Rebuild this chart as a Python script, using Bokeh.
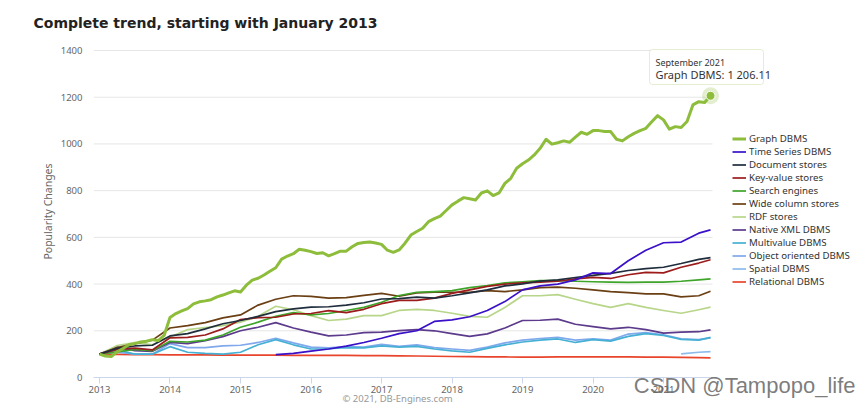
import math
from bokeh.plotting import figure
from bokeh.models import (Range1d, FixedTicker, Legend, LegendItem, Label, Title,
                          BoxAnnotation)
from bokeh.embed import file_html
from bokeh.resources import INLINE

nan = float("nan")

# ---------------- data ----------------
x_tick_years = [2013, 2014, 2015, 2016, 2017, 2018, 2019, 2020, 2021]
x_tick_labels = ["2013", "2014", "2015", "2016", "2017", "2018", "2019", "2020", "2021"]
y_ticks = [0, 200, 400, 600, 800, 1000, 1200, 1400]

month_names = ["January", "February", "March", "April", "May", "June", "July",
               "August", "September", "October", "November", "December"]

# Graph DBMS, monthly from January 2013 to September 2021
graph_dbms = [
    100, 92, 90, 110, 124, 140, 145, 152, 155, 162, 158, 180,
    257, 274, 285, 295, 315, 324, 328, 333, 345, 353, 362, 371,
    366, 395, 417, 425, 439, 455, 470, 507, 520, 530, 549, 545,
    539, 531, 534, 521, 530, 541, 541, 560, 574, 578, 580, 576,
    570, 545, 536, 546, 575, 610, 625, 639, 667, 680, 691, 715,
    739, 755, 770, 765, 760, 790, 799, 779, 790, 831, 853, 896,
    915, 931, 953, 981, 1020, 999, 1005, 1013, 1007, 1029, 1050, 1041,
    1057, 1057, 1053, 1053, 1020, 1013, 1031, 1045, 1057, 1067, 1095, 1121,
    1103, 1063, 1074, 1070, 1096, 1167, 1181, 1177, 1206.11,
]

# other categories, quarterly (Jan/Apr/Jul/Oct) from 2013 to July 2021, then September 2021
time_series = [nan, nan, nan, nan, nan, nan, nan, nan, nan, nan, 98, 103,
               113, 122, 134, 150, 168, 188, 200, 240, 247, 260, 287, 325,
               375, 392, 400, 418, 448, 445, 500, 545, 577, 580, 618, 632]
document = [100, 125, 135, 138, 178, 188, 208, 230, 244, 262, 282, 294,
            301, 303, 310, 320, 336, 338, 344, 340, 350, 362, 375, 392,
            401, 413, 418, 428, 437, 446, 458, 466, 472, 488, 506, 513]
key_value = [100, 120, 126, 118, 170, 172, 182, 208, 248, 256, 258, 272,
             274, 286, 278, 292, 316, 330, 330, 340, 360, 375, 390, 400,
             405, 408, 412, 422, 429, 424, 440, 450, 448, 472, 490, 504]
search = [100, 110, 120, 115, 155, 152, 160, 182, 215, 237, 262, 278,
          268, 274, 287, 300, 322, 351, 365, 368, 372, 385, 394, 405,
          410, 415, 415, 412, 410, 408, 407, 408, 408, 412, 418, 422]
wide_column = [100, 128, 145, 160, 212, 222, 235, 255, 268, 310, 335, 350,
               347, 340, 342, 352, 360, 348, 362, 365, 365, 365, 372, 368,
               375, 385, 387, 382, 375, 368, 363, 358, 358, 345, 350, 369]
rdf = [100, 137, 150, 140, 173, 205, 214, 222, 237, 262, 305, 290,
       265, 244, 250, 265, 265, 287, 292, 287, 275, 262, 258, 300,
       350, 350, 355, 335, 316, 300, 316, 300, 287, 275, 290, 301]
native_xml = [100, 130, 115, 112, 150, 145, 158, 175, 200, 215, 235, 212,
              194, 178, 182, 192, 194, 201, 205, 200, 188, 176, 187, 212,
              244, 245, 250, 228, 218, 208, 215, 205, 190, 194, 196, 204]
multivalue = [100, 118, 100, 100, 132, 108, 103, 100, 108, 140, 162, 140,
              122, 123, 128, 127, 135, 130, 133, 122, 114, 108, 125, 140,
              152, 160, 165, 150, 162, 156, 176, 188, 180, 163, 160, 172]
object_oriented = [100, 108, 100, 100, 145, 128, 128, 135, 138, 150, 168, 148,
                   130, 127, 132, 130, 142, 133, 140, 128, 122, 116, 130, 148,
                   160, 167, 172, 160, 166, 160, 186, 192, 183, 166, 162, 170]
spatial = [nan] * 33 + [101, 108, 111]
relational = [100, 99, 98, 98, 97, 97, 97, 96, 96, 96, 96, 95,
              95, 95, 95, 94, 94, 93, 92, 91, 90, 89, 88, 88,
              87, 87, 88, 88, 88, 88, 88, 87, 87, 86, 85, 84]

names = ["Graph DBMS", "Time Series DBMS", "Document stores", "Key-value stores",
         "Search engines", "Wide column stores", "RDF stores", "Native XML DBMS",
         "Multivalue DBMS", "Object oriented DBMS", "Spatial DBMS", "Relational DBMS"]
colors = ["#8dbd3b", "#3a10c8", "#1f2d3d", "#9c1c1c", "#3fa52a", "#6b3f14",
          "#b8d68a", "#5c3a8c", "#45b0d4", "#80a8ec", "#8dbbeb", "#e8452c"]

credits_text = "\u00a9 2021, DB-Engines.com"
watermark_text = "CSDN @Tampopo_life"
title_text = "Complete trend, starting with January 2013"

# ---------------- dates ----------------
graph_dates = [(2013 + i // 12, i % 12 + 1) for i in range(len(graph_dbms))]
quarter_dates = [(y, m) for y in range(2013, 2022) for m in (1, 4, 7, 10) if (y, m) <= (2021, 7)] + [(2021, 9)]


def dec(d):
    return d[0] + (d[1] - 1) / 12.0


gx = [dec(d) for d in graph_dates]
qx = [dec(d) for d in quarter_dates]

series = [graph_dbms, time_series, document, key_value, search, wide_column,
          rdf, native_xml, multivalue, object_oriented, spatial, relational]

# ---------------- figure ----------------
FONT = "Noto Sans"
X_START, PLOT_END, X_END = 2012.915, 2021.695, 2023.723
p = figure(width=861, height=407, output_backend="svg", toolbar_location=None,
           x_range=Range1d(X_START, X_END), y_range=Range1d(0, 1421.4),
           min_border_left=93, min_border_right=6, min_border_top=45, min_border_bottom=30)
p.outline_line_color = None
p.background_fill_color = "white"
p.border_fill_color = "white"

p.title = Title(text=title_text, align="left", offset=-60,
                text_font="DejaVu Sans", text_font_style="bold", text_font_size="14px",
                text_color="#222222", vertical_align="top", standoff=26)

p.xgrid.grid_line_color = None
p.ygrid.grid_line_color = None
# horizontal grid lines, limited to the plotting area of the original chart
p.segment(x0=[X_START] * len(y_ticks), x1=[PLOT_END] * len(y_ticks), y0=y_ticks, y1=y_ticks,
          line_color="#e6e6e6", line_width=1)

p.xaxis.ticker = FixedTicker(ticks=x_tick_years)
p.xaxis.bounds = (2012.86, 2021.76)
p.xaxis.major_label_overrides = {y: s for y, s in zip(x_tick_years, x_tick_labels)}
p.xaxis.axis_line_color = "#ccd6eb"
p.xaxis.major_tick_line_color = "#ccd6eb"
p.xaxis.major_tick_in = 0
p.xaxis.major_tick_out = 6
p.xaxis.minor_tick_line_color = None
p.xaxis.major_label_standoff = 2
p.xaxis.major_label_text_font = FONT
p.xaxis.major_label_text_font_size = "9.5px"
p.xaxis.major_label_text_color = "#666666"

# credits line under the axis
p.add_layout(Title(text=credits_text, align="left", offset=249, standoff=-7,
                   vertical_align="top", text_font=FONT, text_font_style="normal",
                   text_font_size="9.5px", text_color="#999999"), "below")
# watermark, pulled up into the axis band, right aligned
p.add_layout(Title(text=watermark_text, align="right", offset=0, standoff=-61,
                   vertical_align="top", text_font="Liberation Sans", text_font_style="normal",
                   text_font_size="22px", text_color="#666666", text_alpha=0.85), "below")

p.yaxis.ticker = FixedTicker(ticks=y_ticks)
p.yaxis.axis_line_color = None
p.yaxis.major_tick_line_color = None
p.yaxis.minor_tick_line_color = None
p.yaxis.major_label_standoff = 5
p.yaxis.major_label_text_font = FONT
p.yaxis.major_label_text_font_size = "9.5px"
p.yaxis.major_label_text_color = "#666666"
p.yaxis.axis_label = "Popularity Changes"
p.yaxis.axis_label_text_font = FONT
p.yaxis.axis_label_text_font_style = "normal"
p.yaxis.axis_label_text_font_size = "10.5px"
p.yaxis.axis_label_text_color = "#666666"
p.yaxis.axis_label_standoff = 3

renderers = {}
for i in range(len(series) - 1, -1, -1):
    xs = gx if i == 0 else qx
    lw = 3 if i == 0 else 1.7
    r = p.line(xs, series[i], line_color=colors[i], line_width=lw, line_join="round")
    renderers[i] = r

# hovered point
last_x, last_v = gx[-1], graph_dbms[-1]
p.scatter([last_x], [last_v], size=17, fill_color=colors[0], fill_alpha=0.25, line_color=None)
p.scatter([last_x], [last_v], size=9, fill_color=colors[0], line_color="white", line_width=1)

legend = Legend(items=[LegendItem(label=names[i], renderers=[renderers[i]]) for i in range(len(names))],
                location=(639, 89), orientation="vertical", padding=0, margin=0, spacing=0,
                glyph_width=14, glyph_height=11, label_height=11, label_standoff=3,
                label_text_font=FONT, label_text_font_size="9.7px", label_text_color="#333333",
                border_line_color=None, background_fill_alpha=0)
p.add_layout(legend, "center")

# tooltip
y_, m_ = graph_dates[-1]
tip_date = f"{month_names[m_ - 1]} {y_}"
tip_val = f"{names[0]}: " + f"{last_v:,.2f}".replace(",", " ")
p.add_layout(BoxAnnotation(left=556, right=670, top=328, bottom=293,
                           left_units="screen", right_units="screen",
                           top_units="screen", bottom_units="screen",
                           fill_color="white", fill_alpha=0.95, border_radius=3,
                           line_color="#a6c96b", line_width=1, level="overlay"))
p.add_layout(Label(x=562, y=315, x_units="screen", y_units="screen", text=tip_date,
                   text_font=FONT, text_font_size="9px", text_color="#333333",
                   text_baseline="middle", text_align="left", level="overlay"))
p.add_layout(Label(x=562, y=303, x_units="screen", y_units="screen", text=tip_val,
                   text_font=FONT, text_font_size="11px", text_color="#333333",
                   text_baseline="middle", text_align="left", level="overlay"))

open("out.html", "w").write(file_html(p, INLINE))
